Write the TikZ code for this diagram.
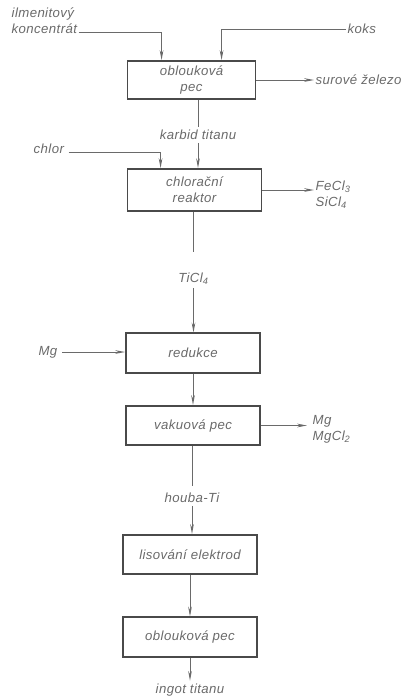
\documentclass[tikz,border=0pt]{standalone}
\usepackage{fontspec}
\setmainfont{Liberation Sans}[LetterSpace=3]
\usepackage{xcolor}
\usetikzlibrary{arrows.meta, positioning, calc}
\definecolor{ink}{HTML}{4A4A4A}
\definecolor{pencil}{HTML}{6A6A6A}

\begin{document}
\begin{tikzpicture}[
    x=0.025cm, y=-0.025cm,
    font=\fontsize{9.4}{11.5}\selectfont\itshape,
    every node/.style={text=pencil},
    unit/.style={rectangle, draw=ink, line width=1.3pt, minimum width=3.35cm, minimum height=0.98cm, align=center, inner sep=1pt},
    stream/.style={align=left, inner sep=1pt},
    label/.style={align=center, inner sep=2pt},
    line/.style={draw=pencil, line width=0.7pt},
    arrow/.style={line, -{Stealth[length=7pt, width=2.6pt]}}
]
\useasboundingbox (0,0) rectangle (401,700);

% Nodes
\node[unit, minimum width=3.2cm, minimum height=0.95cm] (pec) at (191.5,80) {oblouková\\pec};
\node[unit, minimum height=1.05cm] (reaktor) at (194.5,190) {chlorační\\reaktor};
\node[unit] (redukce) at (193,353) {redukce};
\node[unit] (vakuum) at (193,425.5) {vakuová pec};
\node[unit] (lisovani) at (190,554.5) {lisování elektrod};
\node[unit] (pecdva) at (190,637) {oblouková pec};

\node[stream, anchor=north west] (ilmenit) at (10,6) {ilmenitový\\koncentrát};
\coordinate (ilmenitend) at (ilmenit.south east);
\node[stream, anchor=west] (koks) at (346,29) {koks};
\node[stream, anchor=west] (zelezo) at (314,80) {surové železo};
\node[label] (karbid) at (198,135) {karbid titanu};
\node[stream, anchor=base west] (chlor) at (32,153) {chlor};
\node[stream, anchor=west] (chloridy) at (314,195) {FeCl\textsubscript{3}\\SiCl\textsubscript{4}};
\node[label] (ticl) at (193.5,279) {TiCl\textsubscript{4}};
\node[stream, anchor=east] (mgin) at (59,352) {Mg};
\node[stream, anchor=west] (mgout) at (311,429) {Mg\\MgCl\textsubscript{2}};
\node[label] (houba) at (192,498) {houba-Ti};
\node[label] (ingot) at (190,690) {ingot titanu};

% Edges
\draw[arrow] (ilmenitend |- 0,32) -| ($(pec.north west)+(35,0)$);
\draw[arrow] (koks.west) -| ($(pec.north west)+(95,0)$);
\draw[arrow] (pec.east) -- (zelezo.west);
\draw[line] (pec.south -| karbid) -- (karbid.north);
\draw[arrow] (karbid.south) -- (reaktor.north -| karbid);

\draw[arrow] (chlor.base east) ++(3,-1) -| ($(reaktor.north west)+(34,0)$);
\draw[arrow] (reaktor.east) -- (reaktor.east -| chloridy.west);
\draw[line, shorten >=13pt] (reaktor.south -| ticl) -- (ticl.north);
\draw[arrow] (ticl.south) -- (redukce.north -| ticl);

\draw[arrow] (mgin.east) ++(3,0) -- (redukce.west |- mgin.east);
\draw[arrow] (redukce) -- (vakuum);
\draw[arrow] (vakuum.east) -- ($(vakuum.east)+(46,0)$);
\draw[line, shorten >=3pt] (vakuum.south -| houba) -- (houba.north);
\draw[arrow] (houba.south) -- (lisovani.north -| houba);
\draw[arrow] (lisovani) -- (pecdva);
\draw[arrow] (pecdva.south -| ingot) -- (ingot.north);

\end{tikzpicture}
\end{document}
